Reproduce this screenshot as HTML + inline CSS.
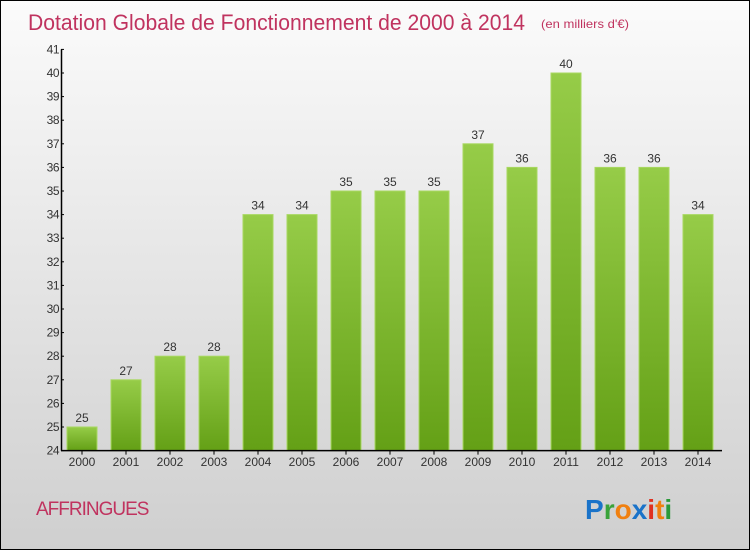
<!DOCTYPE html>
<html><head><meta charset="utf-8"><style>
body{margin:0;}
#wrap{position:relative;width:748px;height:548px;border:1px solid #000;background:linear-gradient(#fbfbfb,#cfcfcf);font-family:"Liberation Sans",sans-serif;overflow:hidden}
</style></head><body>
<div id="wrap">
<svg id="chart" width="748" height="548">
<text x="27" y="29" font-size="22" fill="#c0335f" textLength="497" lengthAdjust="spacingAndGlyphs">Dotation Globale de Fonctionnement de 2000 à 2014</text>
<text x="540" y="27" font-size="12" fill="#c0335f" textLength="88" lengthAdjust="spacingAndGlyphs">(en milliers d'€)</text>
<text x="35" y="514" font-size="19" fill="#c0335f" letter-spacing="-1">AFFRINGUES</text>
<g font-size="28" font-weight="bold" font-family="'Liberation Sans',sans-serif">
<text x="584" y="518"><tspan fill="#1a73c9">P</tspan><tspan fill="#3aa33a">r</tspan><tspan fill="#f08010">o</tspan><tspan fill="#1a73c9">x</tspan><tspan fill="#e03020">i</tspan><tspan fill="#f08010">t</tspan><tspan fill="#2a9a3a">i</tspan></text>
</g>
<defs><linearGradient id="g" x1="0" y1="0" x2="0" y2="1"><stop offset="0" stop-color="#96cc48"/><stop offset="1" stop-color="#64a016"/></linearGradient></defs>
<g id="bars"></g><g id="axes"></g>
</svg>
</div>
<script>
const years=["2000","2001","2002","2003","2004","2005","2006","2007","2008","2009","2010","2011","2012","2013","2014"];
const values=[25,27,28,28,34,34,35,35,35,37,36,40,36,36,34];
const yTicks=[24,25,26,27,28,29,30,31,32,33,34,35,36,37,38,39,40,41];
const NS="http://www.w3.org/2000/svg";
const yMin=24,yMax=41,y0=449.6,y1=48.4;
const yS=v=>y0-(v-yMin)*(y0-y1)/(yMax-yMin);
const xS=i=>81+i*44;
const bw=30;
function mk(t,a,p){const e=document.createElementNS(NS,t);for(const k in a)e.setAttribute(k,a[k]);p.appendChild(e);return e;}
const bars=document.getElementById('bars'),axes=document.getElementById('axes');
values.forEach((v,i)=>{
 const r=mk('rect',{x:xS(i)-bw/2,y:yS(v),width:bw,height:y0-yS(v),fill:'url(#g)',stroke:'#a8d860','stroke-width':1},bars);
 
 
 const t=mk('text',{x:xS(i),y:yS(v)-5,'text-anchor':'middle','font-size':12,fill:'#333'},bars);
 t.textContent=v;
 
 
 const xl=mk('text',{x:xS(i),y:465,'text-anchor':'middle','font-size':12,fill:'#333'},axes);
 xl.textContent=years[i];
 
 
 mk('line',{x1:xS(i),x2:xS(i),y1:y0,y2:y0+4,stroke:'#000'},axes);
});
const ya=mk('line',{x1:60.5,x2:60.5,y1:y1,y2:y0,stroke:'#000','stroke-width':1.5},axes);


const xa=mk('line',{x1:60,x2:721,y1:y0,y2:y0,stroke:'#000','stroke-width':1.5},axes);


yTicks.forEach(v=>{
 mk('line',{x1:60,x2:63,y1:yS(v),y2:yS(v),stroke:'#000'},axes);
 const t=mk('text',{x:58,y:yS(v)+4,'text-anchor':'end','font-size':12,fill:'#333','letter-spacing':'-0.5'},axes);
 t.textContent=v;
 
 
});
</script>
</body></html>
